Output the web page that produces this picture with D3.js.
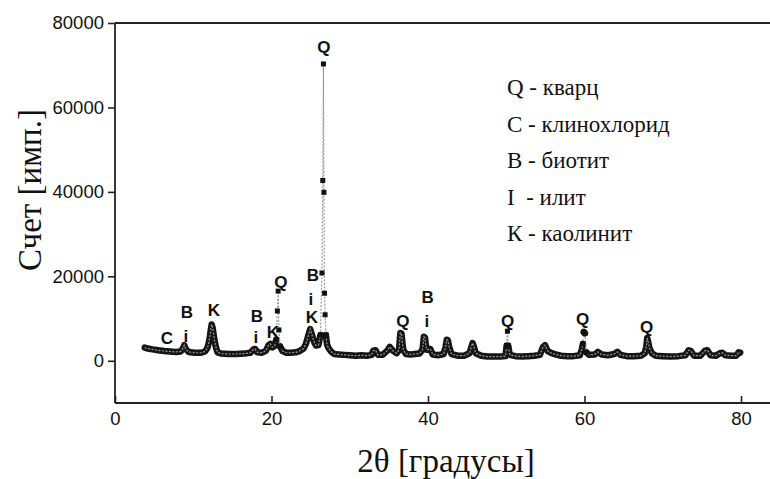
<!DOCTYPE html>
<html>
<head>
<meta charset="utf-8">
<script src="https://cdn.jsdelivr.net/npm/d3@7"></script>
<style>
  html, body { margin: 0; padding: 0; background: #fff; }
  svg { display: block; }
</style>
</head>
<body>
<svg id="chart" width="770" height="479"></svg>
<script>
// Diffraction angle 2θ (degrees)
const angle = [
  3.8, 4.2, 4.8, 5.5, 6.3, 7.0, 7.8, 8.4, 8.7, 8.85, 9.0, 9.4, 10.2, 11.0, 11.5, 11.8,
  11.95, 12.1, 12.22, 12.35, 12.48, 12.6, 12.72, 12.9, 13.1, 13.6, 14.5, 15.5, 16.5, 17.3,
  17.7, 17.9, 18.2, 18.8, 19.3, 19.6, 19.85, 20.1, 20.4, 20.6, 20.75, 20.85, 20.95, 21.1,
  21.4, 21.9, 22.5, 23.1, 23.6, 24.1, 24.4, 24.6, 24.8, 24.95, 25.1, 25.3, 25.5, 25.7,
  26.0, 26.25, 26.45, 26.55, 26.64, 26.7, 26.78, 26.85, 26.95, 27.1, 27.3, 27.6, 28.0,
  28.6, 29.3, 30.0, 30.8, 31.5, 32.2, 32.8, 33.0, 33.3, 33.6, 34.2, 34.8, 35.1, 35.5,
  36.0, 36.3, 36.38, 36.47, 36.62, 36.72, 36.85, 37.2, 37.8, 38.3, 38.9, 39.3, 39.38,
  39.47, 39.62, 39.72, 39.85, 40.3, 40.6, 41.3, 42.0, 42.25, 42.4, 42.55, 42.7, 43.0,
  43.8, 44.6, 45.3, 45.55, 45.7, 45.85, 46.1, 46.8, 47.6, 48.5, 49.3, 49.9, 50.05,
  50.15, 50.25, 50.45, 51.2, 52.0, 52.8, 53.6, 54.3, 54.7, 54.95, 55.3, 55.8, 56.3,
  57.0, 57.8, 58.6, 59.4, 59.65, 59.8, 59.9, 60.05, 60.25, 60.6, 61.3, 61.7, 62.2,
  63.0, 63.8, 64.2, 64.6, 65.4, 66.3, 67.2, 67.7, 67.9, 68.02, 68.12, 68.3, 68.6,
  69.1, 70.0, 71.0, 72.0, 72.9, 73.3, 73.6, 74.0, 74.8, 75.4, 75.7, 76.1, 76.8,
  77.3, 77.6, 78.0, 78.8, 79.4, 79.7, 79.9
];

// Intensity (counts)
const counts = [
  3100, 2900, 2700, 2500, 2300, 2200, 2100, 2200, 3000, 3700, 2900, 2100, 1900, 1900, 2200, 3000,
  4000, 5400, 7000, 8600, 7800, 6300, 4800, 3200, 2000, 1700, 1600, 1600, 1700, 1900,
  2700, 2800, 2000, 1900, 2400, 3600, 4000, 3200, 3500, 5000, 11800, 16500, 7300, 3400,
  2300, 1900, 1900, 2000, 2300, 2900, 4000, 5300, 6600, 7500, 6600, 5300, 4200, 3600,
  3700, 6100, 20800, 42700, 70300, 39900, 16000, 10900, 6100, 3800, 3000, 2200, 1600,
  1500, 1400, 1300, 1200, 1300, 1200, 1400, 2400, 2500, 1400, 1400, 2400, 3300, 2400,
  1800, 2600, 4600, 6600, 6400, 4400, 2500, 1600, 1500, 1600, 1700, 2600, 4000,
  5700, 5500, 3800, 2600, 2800, 1500, 1300, 1600, 3300, 5000, 4800, 3300, 1600,
  1200, 1200, 1800, 3300, 4200, 3400, 1800, 1200, 1000, 1000, 1000, 1100, 3600,
  7000, 3600, 1400, 1100, 1000, 1100, 1200, 1400, 3300, 3700, 2300, 1800, 1500,
  1200, 1100, 1100, 1300, 2600, 4000, 6800, 6500, 2000, 1400, 1500, 2100, 1500,
  1300, 1600, 2100, 1400, 1100, 1100, 1200, 1800, 3400, 5400, 4600, 3000, 1800,
  1200, 1100, 1000, 1100, 1300, 2500, 2300, 1200, 1200, 2400, 2500, 1300, 1200,
  1800, 1900, 1300, 1200, 1200, 2000, 1900
];

// Phase labels over the peaks: text, 2θ position, count level
const peakText  = ["C", "B", "i", "K", "B", "i", "K", "Q", "B", "i", "K", "Q", "Q", "B", "i", "Q", "Q", "Q"];
const peakAngle = [6.64, 9.2, 9.07, 12.64, 18.14, 18.0, 20.18, 21.2, 25.29, 25.03, 25.16, 26.69, 36.78, 39.97, 39.85, 50.19, 59.77, 67.94];
const peakLevel = [5190, 11330, 5660, 11800, 10380, 5430, 6600, 18640, 20300, 14400, 10150, 74100, 9200, 14870, 9200, 9200, 9680, 7790];

// Phase legend
const legendLines = ["Q - кварц", "С - клинохлорид", "В - биотит", "I  - илит", "К - каолинит"];

const xTicks = [0, 20, 40, 60, 80];
const yTicks = [0, 20000, 40000, 60000, 80000];

const svg = d3.select("#chart");
const plotLeft = 115, plotTop = 23, plotBottom = 403;
const x = d3.scaleLinear().domain([0, 84]).range([plotLeft, plotLeft + 84 * 7.825]);
const y = d3.scaleLinear().domain([-10000, 80000]).range([plotBottom, plotTop]);

const pts = angle.map((a, i) => [x(a), y(counts[i])]);

// Split the profile: dense stretches are drawn as a heavy band,
// long steep jumps only as a thin connector with square markers.
const maxSeg = 11;
const runs = [];
const markers = new Set();
let run = [pts[0]];
for (let i = 1; i < pts.length; i++) {
  const dx = pts[i][0] - pts[i - 1][0], dy = pts[i][1] - pts[i - 1][1];
  if (Math.hypot(dx, dy) > maxSeg) {
    runs.push(run);
    run = [pts[i]];
    markers.add(i - 1); markers.add(i);
  } else {
    run.push(pts[i]);
  }
}
runs.push(run);

const line = d3.line();

const plot = svg.append("g");
plot.selectAll("path.band")
  .data(runs.filter(r => r.length > 1))
  .join("path")
  .attr("class", "band")
  .attr("d", line)
  .attr("fill", "none")
  .attr("stroke", "#151515")
  .attr("stroke-width", 6.5)
  .attr("stroke-linejoin", "round")
  .attr("stroke-linecap", "round");

plot.append("path")
  .attr("d", line(pts))
  .attr("fill", "none")
  .attr("stroke", "#9a9a9a")
  .attr("stroke-width", 1.2)
  .attr("stroke-dasharray", "2,1.5");

plot.selectAll("rect.mk")
  .data([...markers])
  .join("rect")
  .attr("class", "mk")
  .attr("x", i => pts[i][0] - 2.5)
  .attr("y", i => pts[i][1] - 2.5)
  .attr("width", 5)
  .attr("height", 5)
  .attr("fill", "#111");

// Axes
const yAxis = svg.append("g")
  .attr("transform", `translate(${plotLeft},0)`)
  .call(d3.axisLeft(y).tickValues(yTicks).tickSize(7).tickPadding(4).tickFormat(d3.format("d")));
const xAxis = svg.append("g")
  .attr("transform", `translate(0,${plotBottom})`)
  .call(d3.axisBottom(x).tickValues(xTicks).tickSize(-7).tickPadding(9).tickFormat(d3.format("d")));

[yAxis, xAxis].forEach(g => {
  g.select(".domain").attr("stroke", "#222").attr("stroke-width", 1.8);
  g.selectAll(".tick line").attr("stroke", "#222").attr("stroke-width", 1.6);
  g.selectAll(".tick text")
    .attr("fill", "#111")
    .attr("font-family", "'Liberation Sans', Arial, sans-serif")
    .attr("font-size", 18.5);
});
// extend the domain paths to the full frame
yAxis.select(".domain").attr("d", `M0,${plotTop}V${plotBottom}`);
xAxis.select(".domain").attr("d", `M${plotLeft},0H770`);

svg.append("line")
  .attr("x1", plotLeft).attr("x2", 770)
  .attr("y1", plotTop).attr("y2", plotTop)
  .attr("stroke", "#222").attr("stroke-width", 1.8);

// Peak labels
svg.append("g")
  .selectAll("text")
  .data(peakText)
  .join("text")
  .attr("x", (d, i) => x(peakAngle[i]))
  .attr("y", (d, i) => y(peakLevel[i]))
  .attr("text-anchor", "middle")
  .attr("dominant-baseline", "central")
  .attr("font-family", "'Liberation Sans', Arial, sans-serif")
  .attr("font-weight", "bold")
  .attr("font-size", 17)
  .attr("fill", "#111")
  .text(d => d);

// Legend
svg.append("g")
  .selectAll("text")
  .data(legendLines)
  .join("text")
  .attr("x", 507)
  .attr("y", (d, i) => 95 + i * 36.5)
  .attr("font-family", "'Liberation Serif', 'Times New Roman', serif")
  .attr("font-size", 23)
  .attr("fill", "#111")
  .style("white-space", "pre")
  .text(d => d);

// Axis titles
svg.append("text")
  .attr("transform", "translate(41,190) rotate(-90)")
  .attr("text-anchor", "middle")
  .attr("font-family", "'Liberation Serif', 'Times New Roman', serif")
  .attr("font-size", 33)
  .attr("fill", "#111")
  .text("Счет [имп.]");

svg.append("text")
  .attr("x", 446)
  .attr("y", 472)
  .attr("text-anchor", "middle")
  .attr("font-family", "'Liberation Serif', 'Times New Roman', serif")
  .attr("font-size", 33)
  .attr("fill", "#111")
  .text("2θ [градусы]");
</script>
</body>
</html>
